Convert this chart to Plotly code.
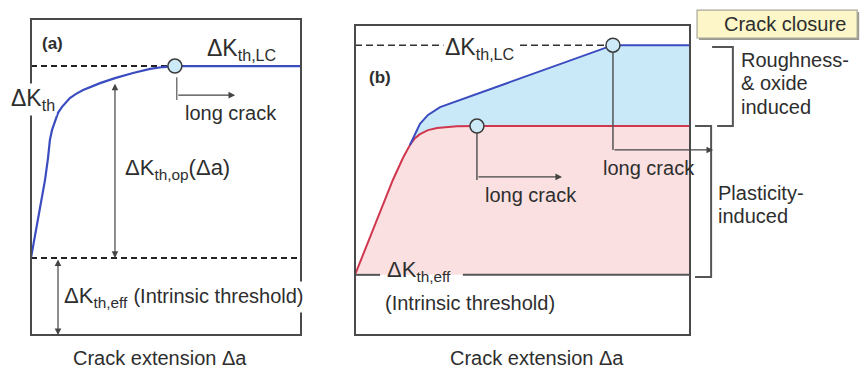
import plotly.graph_objects as go

# ---------------- data (schematic units, 0..10 inside each box) ----------------
# Panel (a): threshold vs crack extension
a_dx = [0, 0.26, 0.52, 0.63, 0.70, 0.78, 0.89, 1.00, 1.15, 1.30, 1.44, 1.67, 1.93, 2.56, 3.11,
        3.78, 4.41, 4.89, 5.33, 10]
a_dk = [2.44, 3.70, 4.91, 5.60, 6.17, 6.49, 6.80, 7.03, 7.22, 7.37, 7.50, 7.63, 7.75, 7.97, 8.13,
        8.29, 8.42, 8.48, 8.51, 8.51]
A_LC = 8.51      # long-crack threshold level
A_EFF = 2.44     # intrinsic threshold level
A_LC_X = 5.33    # crack extension where long-crack behaviour starts

# Panel (b): plasticity-induced (red) and total (blue) threshold curves
b_red_x = [0, 1.13, 1.43, 1.64, 1.79, 1.94, 2.18, 2.45, 3.04, 3.64, 10]
b_red_y = [1.94, 5.00, 5.71, 6.13, 6.35, 6.48, 6.61, 6.68, 6.73, 6.74, 6.74]
b_blue_x = [1.64, 1.76, 1.94, 2.18, 2.54, 7.70, 10]
b_blue_y = [6.13, 6.42, 6.81, 7.10, 7.35, 9.35, 9.35]
B_LC = 9.35
B_PL = 6.74
B_EFF = 1.94
B_RED_LC_X = 3.64
B_BLUE_LC_X = 7.70

TXT = "#2e2e2e"
EDGE = "#4a4a4a"
FONT = "Liberation Sans, Arial, sans-serif"
BLUE = "#3a4cc0"
RED = "#d0364e"

fig = go.Figure()

# ---------------- panel (a) ----------------
fig.add_trace(go.Scatter(x=[0, A_LC_X], y=[A_LC, A_LC], mode="lines",
                         line=dict(color="#222", width=2, dash="6px,4px"),
                         xaxis="x", yaxis="y", hoverinfo="skip"))
fig.add_trace(go.Scatter(x=[0, 10], y=[A_EFF, A_EFF], mode="lines",
                         line=dict(color="#222", width=2, dash="6px,4px"),
                         xaxis="x", yaxis="y", hoverinfo="skip"))
fig.add_trace(go.Scatter(x=a_dx, y=a_dk, mode="lines",
                         line=dict(color=BLUE, width=2.2),
                         xaxis="x", yaxis="y", hoverinfo="skip"))
# long crack stub
fig.add_trace(go.Scatter(x=[A_LC_X + 0.07, A_LC_X + 0.07], y=[A_LC - 0.35, A_LC - 1.07], mode="lines",
                         line=dict(color="#555", width=1.2),
                         xaxis="x", yaxis="y", hoverinfo="skip"))
fig.add_trace(go.Scatter(x=[A_LC_X], y=[A_LC], mode="markers",
                         marker=dict(size=14, color="#cdeaf8", line=dict(color="#3c3c3c", width=1.5)),
                         xaxis="x", yaxis="y", cliponaxis=False, hoverinfo="skip"))

# ---------------- panel (b) ----------------
red_sub_x = [x for x in b_red_x if x >= b_blue_x[0]]
red_sub_y = [y for x, y in zip(b_red_x, b_red_y) if x >= b_blue_x[0]]

fig.add_trace(go.Scatter(x=[0, 10], y=[B_EFF, B_EFF], mode="lines", line=dict(width=0),
                         xaxis="x2", yaxis="y2", hoverinfo="skip"))
fig.add_trace(go.Scatter(x=b_red_x, y=b_red_y, mode="lines", fill="tonexty", fillcolor="#fbe0e1",
                         line=dict(width=0), xaxis="x2", yaxis="y2", hoverinfo="skip"))
fig.add_trace(go.Scatter(x=red_sub_x, y=red_sub_y, mode="lines", line=dict(width=0),
                         xaxis="x2", yaxis="y2", hoverinfo="skip"))
fig.add_trace(go.Scatter(x=b_blue_x, y=b_blue_y, mode="lines", fill="tonexty", fillcolor="#c9e8f8",
                         line=dict(width=0), xaxis="x2", yaxis="y2", hoverinfo="skip"))
# dashed long-crack level
fig.add_trace(go.Scatter(x=[0, B_BLUE_LC_X], y=[B_LC, B_LC], mode="lines",
                         line=dict(color="#333", width=1.5, dash="7px,4px"),
                         xaxis="x2", yaxis="y2", hoverinfo="skip"))
# intrinsic baseline (broken behind its label)
fig.add_trace(go.Scatter(x=[0, 0.75, None, 3.22, 10], y=[B_EFF, B_EFF, None, B_EFF, B_EFF], mode="lines",
                         line=dict(color="#555", width=2),
                         xaxis="x2", yaxis="y2", hoverinfo="skip"))
fig.add_trace(go.Scatter(x=b_red_x, y=b_red_y, mode="lines",
                         line=dict(color=RED, width=2), xaxis="x2", yaxis="y2", hoverinfo="skip"))
fig.add_trace(go.Scatter(x=b_blue_x, y=b_blue_y, mode="lines",
                         line=dict(color=BLUE, width=2), xaxis="x2", yaxis="y2", hoverinfo="skip"))
# long crack stubs
fig.add_trace(go.Scatter(x=[B_RED_LC_X, B_RED_LC_X], y=[B_PL - 0.2, 5.0], mode="lines",
                         line=dict(color="#555", width=1.5), xaxis="x2", yaxis="y2", hoverinfo="skip"))
fig.add_trace(go.Scatter(x=[B_BLUE_LC_X, B_BLUE_LC_X], y=[B_LC - 0.2, 5.97], mode="lines",
                         line=dict(color="#555", width=1.5), xaxis="x2", yaxis="y2", hoverinfo="skip"))
# brackets
fig.add_trace(go.Scatter(x=[10.15, 10.63, 10.63, 10.15], y=[B_PL, B_PL, 1.87, 1.87], mode="lines",
                         line=dict(color="#555", width=2), xaxis="x2", yaxis="y2", hoverinfo="skip"))
fig.add_trace(go.Scatter(x=[10.66, 11.28, 11.28, 10.81], y=[9.29, 9.29, B_PL, B_PL], mode="lines",
                         line=dict(color="#555", width=2), xaxis="x2", yaxis="y2", hoverinfo="skip"))
fig.add_trace(go.Scatter(x=[B_RED_LC_X, B_BLUE_LC_X], y=[B_PL, B_LC], mode="markers",
                         marker=dict(size=14, color="#cdeaf8", line=dict(color="#3c3c3c", width=1.5)),
                         xaxis="x2", yaxis="y2", cliponaxis=False, hoverinfo="skip"))

shapes = [
    dict(type="rect", xref="x", yref="y", x0=0, x1=10, y0=0, y1=10, line=dict(color=EDGE, width=2)),
    dict(type="rect", xref="x2", yref="y2", x0=0, x1=10, y0=0, y1=10, line=dict(color=EDGE, width=2)),
    dict(type="rect", xref="x2", yref="y2", x0=10.27, x1=15.05, y0=9.52, y1=10.42,
         line=dict(width=0), fillcolor="#9a9a90"),
    dict(type="rect", xref="x2", yref="y2", x0=10.21, x1=14.99, y0=9.58, y1=10.48,
         line=dict(color="#a8a89a", width=1.2), fillcolor="#fcf6c8"),
]

def txt(text, x, y, ref, size=20, xanchor="center", yanchor="middle", **kw):
    return dict(text=text, x=x, y=y, xref="x" if ref == "a" else "x2",
                yref="y" if ref == "a" else "y2", showarrow=False,
                font=dict(family=FONT, size=size, color=TXT),
                xanchor=xanchor, yanchor=yanchor, **kw)

def arrow(x, y, ax, ay, ref, both=False):
    xr = "x" if ref == "a" else "x2"
    yr = "y" if ref == "a" else "y2"
    return dict(x=x, y=y, ax=ax, ay=ay, xref=xr, yref=yr, axref=xr, ayref=yr, text="",
                showarrow=True, arrowhead=2, arrowsize=1.1, arrowwidth=1.2, arrowcolor="#444",
                arrowside="end+start" if both else "end", standoff=0, startstandoff=0)

ann = [
    # panel (a)
    txt("<b>(a)</b>", 0.78, 9.24, "a", size=17),
    txt("ΔK<sub>th,LC</sub>", 7.81, 9.05, "a", size=23),
    txt("ΔK<sub>th</sub>", 0.07, 7.44, "a", size=23, bgcolor="white"),
    txt("long crack", 7.41, 7.02, "a", size=20),
    txt("ΔK<sub>th,op</sub>(Δa)", 3.41, 5.25, "a", size=22, xanchor="left"),
    txt("ΔK<sub>th,eff</sub> <span style='font-size:20px'>(Intrinsic threshold)</span>",
        1.15, 1.2, "a", size=22, xanchor="left", bgcolor="white"),
    txt("Crack extension Δa", 4.78, -0.72, "a", size=20),
    arrow(3.11, A_EFF, 3.11, 8.0, "a", both=True),
    arrow(1.0, 0.0, 1.0, A_EFF, "a", both=True),
    arrow(7.56, A_LC - 0.92, A_LC_X + 0.07, A_LC - 0.92, "a"),
    # panel (b)
    txt("<b>(b)</b>", 0.75, 8.32, "b", size=17),
    txt("ΔK<sub>th,LC</sub>", 3.73, 9.25, "b", size=23, bgcolor="white"),
    txt("ΔK<sub>th,eff</sub>", 0.9, 2.05, "b", size=22, xanchor="left"),
    txt("(Intrinsic threshold)", 0.84, 1.03, "b", size=20, xanchor="left"),
    txt("long crack", 5.25, 4.52, "b", size=20),
    txt("long crack", 8.78, 5.39, "b", size=20),
    txt("Crack extension Δa", 5.43, -0.74, "b", size=20),
    txt("Threshold <span style='font-size:23px'>ΔK</span><sub>th</sub>", -0.81, 5.1, "b",
        size=20, textangle=-90),
    txt("Roughness-", 11.46, 8.87, "b", size=20, xanchor="left"),
    txt("&amp; oxide", 11.46, 8.13, "b", size=20, xanchor="left"),
    txt("induced", 11.46, 7.36, "b", size=20, xanchor="left"),
    txt("Plasticity-", 10.78, 4.58, "b", size=20, xanchor="left"),
    txt("induced", 10.78, 3.84, "b", size=20, xanchor="left"),
    txt("Crack closure", 12.84, 10.03, "b", size=20),
    arrow(6.18, 5.10, B_RED_LC_X, 5.10, "b"),
    arrow(10.69, 5.97, B_BLUE_LC_X, 5.97, "b"),
]

fig.update_layout(
    width=862, height=369, margin=dict(l=0, r=0, t=0, b=0),
    paper_bgcolor="white", plot_bgcolor="white", showlegend=False,
    xaxis=dict(domain=[0, 340 / 862], range=[-31 / 27, 309 / 27], visible=False, fixedrange=True),
    yaxis=dict(domain=[0, 1], range=[-34 / 31.6, 335 / 31.6], visible=False, fixedrange=True),
    xaxis2=dict(domain=[340 / 862, 1], range=[-15 / 33.5, 507 / 33.5], visible=False, fixedrange=True),
    yaxis2=dict(domain=[0, 1], range=[-34 / 31, 335 / 31], visible=False, fixedrange=True, anchor="x2"),
    shapes=shapes, annotations=ann,
)
fig.write_html("out.html", config={"displayModeBar": False})
